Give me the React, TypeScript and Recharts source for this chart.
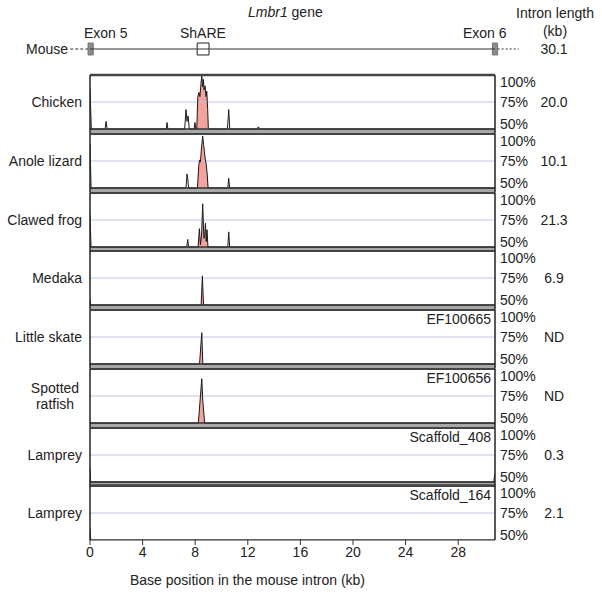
import React from 'react';
import { ComposedChart, Line, Area, XAxis, YAxis, ReferenceLine, ReferenceArea } from 'recharts';

const XMAX = 30.8;
const X_TICKS = [0, 4, 8, 12, 16, 20, 24, 28];
const Y_TICKS = [50, 75, 100];

const species = ['Chicken', 'Anole lizard', 'Clawed frog', 'Medaka', 'Little skate', 'Spotted\nratfish', 'Lamprey', 'Lamprey'];
const intronLengths = ['20.0', '10.1', '21.3', '6.9', 'ND', 'ND', '0.3', '2.1'];
const accessions = ['', '', '', '', 'EF100665', 'EF100656', 'Scaffold_408', 'Scaffold_164'];
const mouseIntronLength = '30.1';

// mouse gene diagram (kb)
const geneLine = [{ x: 0, y: 0 }, { x: XMAX, y: 0 }];
const exon5 = [-0.15, 0.25];
const exon6 = [30.6, 31.0];
const shareBox = [8.15, 9.05];

// conservation profiles: [kb, % identity]
const chickenProfile = [[0, 87], [0.1, 50], [1.15, 50], [1.22, 57], [1.3, 50], [5.8, 50], [5.86, 56], [5.92, 50], [7.2, 50], [7.3, 68], [7.38, 57], [7.46, 62], [7.55, 50], [7.92, 50], [7.98, 56], [8.05, 50], [8.12, 50], [8.2, 80], [8.28, 84], [8.36, 80], [8.44, 92], [8.5, 100], [8.56, 89], [8.62, 96], [8.68, 86], [8.75, 90], [8.82, 80], [8.88, 85], [8.95, 68], [9.0, 50], [10.45, 50], [10.55, 68], [10.63, 50], [12.7, 50], [12.8, 52], [12.9, 50], [30.8, 50]];
const anoleProfile = [[0, 91], [0.08, 50], [7.3, 50], [7.38, 63], [7.44, 58], [7.5, 50], [8.17, 50], [8.28, 72], [8.34, 76], [8.4, 74], [8.47, 86], [8.57, 98], [8.64, 90], [8.7, 84], [8.76, 77], [8.84, 72], [8.92, 62], [8.98, 50], [10.48, 50], [10.55, 59], [10.62, 50], [30.8, 50]];
const frogProfile = [[0, 80], [0.08, 50], [7.36, 50], [7.43, 57], [7.5, 50], [8.22, 50], [8.32, 67], [8.4, 52], [8.48, 60], [8.57, 90], [8.66, 58], [8.72, 60], [8.78, 72], [8.84, 55], [8.9, 66], [8.97, 50], [10.48, 50], [10.55, 64], [10.62, 50], [30.8, 50]];
const medakaProfile = [[0, 55], [0.06, 50], [8.45, 50], [8.55, 77], [8.6, 60], [8.64, 50], [30.8, 50]];
const skateProfile = [[0, 50], [8.33, 50], [8.5, 79], [8.58, 50], [30.8, 50]];
const ratfishProfile = [[0, 50], [8.24, 50], [8.5, 91], [8.58, 70], [8.72, 50], [30.8, 50]];
const lamprey1Profile = [[0, 63], [0.05, 50], [30.7, 50], [30.8, 58]];
const lamprey2Profile = [[0, 61], [0.05, 50], [30.8, 50]];

// conserved (pink) ranges, kb
const chickenCns = [8.12, 9.0];
const anoleCns = [8.17, 8.98];
const frogCns = [8.22, 8.97];
const medakaCns = [8.45, 8.64];
const skateCns = [8.33, 8.58];
const ratfishCns = [8.24, 8.72];

const profiles = [chickenProfile, anoleProfile, frogProfile, medakaProfile, skateProfile, ratfishProfile, lamprey1Profile, lamprey2Profile];
const cnsRanges: (number[] | null)[] = [chickenCns, anoleCns, frogCns, medakaCns, skateCns, ratfishCns, null, null];

const FONT = '"Liberation Sans", Arial, Helvetica, sans-serif';
const PANEL_TOP = 75;
const PANEL_H = 58.75;
const PX_PER_PCT = 1.08;
const BAND_MIN = 100 - PANEL_H / PX_PER_PCT;
const PINK = '#f4a29e';
const GRID = '#c3c6e2';

function buildRows(profile: number[][], cns: number[] | null) {
  return profile.map(([x, y]) => ({
    x,
    y,
    cns: cns && x >= cns[0] && x <= cns[1] ? y : null,
  }));
}

const PctTick = (props: any) => {
  const { x, y, payload } = props;
  const v = payload.value;
  const off = v === 100 ? 7 : v === 50 ? -5 : 0;
  return (
    <text x={x} y={y + off} textAnchor="start" dominantBaseline="central" fontSize={14} fill="#222" fontFamily={FONT}>
      {v}%
    </text>
  );
};

function Panel({ index }: { index: number }) {
  const last = index === profiles.length - 1;
  const rows = buildRows(profiles[index], cnsRanges[index]);
  const yMin = last ? 50 : BAND_MIN;
  const height = last ? 54 + 45 : PANEL_H;
  return (
    <ComposedChart
      width={602}
      height={height}
      data={rows}
      margin={{ top: 0, right: 47, bottom: 0, left: 90 }}
    >
      <XAxis
        type="number"
        dataKey="x"
        domain={[0, XMAX]}
        allowDataOverflow
        hide={!last}
        ticks={X_TICKS}
        interval={0}
        height={45}
        tickSize={5}
        tickMargin={2}
        stroke="#333"
        tick={{ fontSize: 14, fill: '#222', fontFamily: FONT }}
      />
      <YAxis
        orientation="right"
        type="number"
        domain={[yMin, 100]}
        allowDataOverflow
        ticks={Y_TICKS}
        interval={0}
        width={60}
        axisLine={false}
        tickLine={false}
        tickSize={3}
        tickMargin={2}
        tick={<PctTick />}
      />
      {!last && <ReferenceArea x1={0} x2={XMAX} y1={yMin} y2={50} fill="#a8a8a8" fillOpacity={1} stroke="none" />}
      {index === 6 && <ReferenceLine y={47.6} stroke="#555" strokeWidth={1} />}
      <ReferenceLine y={75} stroke={GRID} strokeWidth={1} />
      <Area
        type="linear"
        dataKey="cns"
        baseValue={50}
        fill={PINK}
        fillOpacity={1}
        stroke="none"
        isAnimationActive={false}
        connectNulls={false}
      />
      <Line type="linear" dataKey="y" stroke="#1a1a1a" strokeWidth={1} dot={false} isAnimationActive={false} />
      {!last && <ReferenceLine y={50} stroke="#333" strokeWidth={1.5} />}
      <ReferenceLine y={100} stroke="#444" strokeWidth={index === 0 ? 2.5 : 2} />
      <ReferenceLine x={0} stroke="#222" strokeWidth={1.5} />
      <ReferenceLine x={XMAX} stroke="#222" strokeWidth={1.5} />
    </ComposedChart>
  );
}

function MouseGene() {
  return (
    <ComposedChart width={602} height={75} data={geneLine} margin={{ top: 23, right: 107, bottom: 0, left: 90 }}>
      <XAxis type="number" dataKey="x" domain={[0, XMAX]} hide allowDataOverflow />
      <YAxis type="number" domain={[-1, 1]} hide />
      <ReferenceLine segment={[{ x: -1.5, y: 0 }, { x: exon5[0], y: 0 }]} stroke="#333" strokeDasharray="3 2" ifOverflow="visible" />
      <ReferenceLine segment={[{ x: exon6[1], y: 0 }, { x: exon6[1] + 1.6, y: 0 }]} stroke="#333" strokeDasharray="2 2" ifOverflow="visible" />
      <Line type="linear" dataKey="y" stroke="#333" strokeWidth={1} dot={false} isAnimationActive={false} />
      <ReferenceArea x1={exon5[0]} x2={exon5[1]} y1={-0.23} y2={0.23} fill="#8a8a8a" fillOpacity={1} stroke="#777" ifOverflow="visible" />
      <ReferenceArea x1={exon6[0]} x2={exon6[1]} y1={-0.23} y2={0.23} fill="#8a8a8a" fillOpacity={1} stroke="#777" ifOverflow="visible" />
      <ReferenceArea x1={shareBox[0]} x2={shareBox[1]} y1={-0.23} y2={0.23} fill="#fff" fillOpacity={1} stroke="#222" strokeWidth={1} ifOverflow="visible" />
    </ComposedChart>
  );
}

const abs = (style: React.CSSProperties): React.CSSProperties => ({ position: 'absolute', whiteSpace: 'nowrap', lineHeight: '16px', ...style });

export default function App() {
  return (
    <div style={{ position: 'absolute', left: 0, top: 0, width: 602, height: 596, background: '#fff', fontFamily: FONT, fontSize: 14, color: '#222' }}>
      <style>{`.recharts-surface{overflow:visible}`}</style>
      <div style={{ position: 'absolute', left: 0, top: 0 }}>
        <MouseGene />
      </div>
      {profiles.map((_, i) => (
        <div key={i} style={{ position: 'absolute', left: 0, top: PANEL_TOP + i * PANEL_H }}>
          <Panel index={i} />
        </div>
      ))}

      {/* header texts */}
      <div style={abs({ left: 248, top: 4 })}><i>Lmbr1</i> gene</div>
      <div style={abs({ left: 505, top: 5, width: 100, textAlign: 'center' })}>Intron length</div>
      <div style={abs({ left: 505, top: 23, width: 100, textAlign: 'center' })}>(kb)</div>
      <div style={abs({ left: 84, top: 25 })}>Exon 5</div>
      <div style={abs({ left: 180, top: 25 })}>ShARE</div>
      <div style={abs({ left: 463, top: 25 })}>Exon 6</div>
      <div style={abs({ left: 0, top: 41, width: 68, textAlign: 'right' })}>Mouse</div>
      <div style={abs({ left: 524, top: 41, width: 60, textAlign: 'center' })}>{mouseIntronLength}</div>

      {species.map((s, i) => {
        const y = PANEL_TOP + i * PANEL_H + 25 * PX_PER_PCT;
        const lines = s.split('\n');
        return (
          <div key={'s' + i} style={abs({ left: 0, top: y - lines.length * 8, width: lines.length > 1 ? 110 : 82, textAlign: lines.length > 1 ? 'center' : 'right' })}>
            {lines.map((l, k) => (<div key={k}>{l}</div>))}
          </div>
        );
      })}
      {intronLengths.map((v, i) => (
        <div key={'l' + i} style={abs({ left: 524, top: PANEL_TOP + i * PANEL_H + 25 * PX_PER_PCT - 8, width: 60, textAlign: 'center' })}>{v}</div>
      ))}
      {accessions.map((a, i) => a ? (
        <div key={'a' + i} style={abs({ left: 380, top: PANEL_TOP + i * PANEL_H + 1, width: 111, textAlign: 'right' })}>{a}</div>
      ) : null)}
      <div style={abs({ left: 130, top: 572 })}>Base position in the mouse intron (kb)</div>
    </div>
  );
}
